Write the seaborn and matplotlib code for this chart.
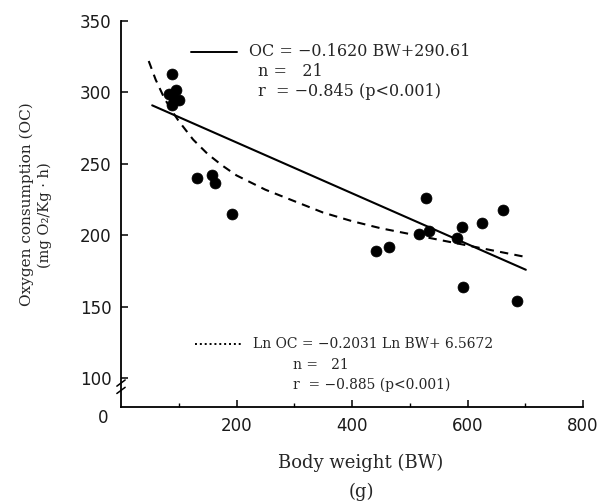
import matplotlib

matplotlib.use("Agg")

import matplotlib.pyplot as plt
import numpy as np
import pandas as pd
import seaborn as sns

body_weight = [89, 83, 95, 100, 92, 89, 132, 158, 162, 192,
               441, 464, 516, 529, 533, 582, 591, 593, 625, 662, 686]
oxygen = [313, 299, 302, 295, 295, 291, 240, 242, 237, 215,
          189, 192, 201, 226, 203, 198, 206, 164, 209, 218, 154]

# fitted lines as drawn
linear_bw = [54, 701]
linear_oc = [291, 176]
power_bw = [48, 60, 75, 90, 100, 125, 150, 175, 200, 250, 300, 350,
            400, 450, 500, 550, 600, 650, 700]
power_oc = [322, 309, 296, 286, 280, 267, 257, 249, 242, 232, 224, 216,
            210, 205, 201, 197, 193, 189, 185]

y_ticks = [100, 150, 200, 250, 300, 350]
x_major = [200, 400, 600, 800]
x_minor = [100, 300, 500, 700]

W, H = 606, 504

sns.set_theme(style="ticks")
plt.rcParams["font.family"] = ["DejaVu Serif"]
plt.rcParams["axes.unicode_minus"] = True

fig = plt.figure(figsize=(W / 100, H / 100), dpi=100)
ax = fig.add_axes([121 / W, 1 - 407 / H, (583 - 121) / W, (407 - 21) / H])

pts = pd.DataFrame({"bw": body_weight, "oc": oxygen})
sns.scatterplot(data=pts, x="bw", y="oc", color="black", s=62,
                edgecolor="black", linewidth=0.5, ax=ax, zorder=3)
sns.lineplot(x=linear_bw, y=linear_oc, color="black", lw=1.5, sort=False, ax=ax)
sns.lineplot(x=power_bw, y=power_oc, color="black", lw=1.5, sort=False,
             linestyle=(0, (4, 3)), ax=ax)

ax.set_xlim(0, 800)
ax.set_ylim(80, 350)
ax.set_xticks(x_major)
ax.set_xticks(x_minor, minor=True)
ax.set_yticks(y_ticks)
ax.set_xlabel("")
ax.set_ylabel("")
for s in ["top", "right"]:
    ax.spines[s].set_visible(False)
for s in ["left", "bottom"]:
    ax.spines[s].set_linewidth(1.3)
    ax.spines[s].set_color("black")
ax.tick_params(which="major", direction="in", length=5, width=1.1, color="black",
               labelsize=12, pad=7)
ax.tick_params(which="minor", direction="in", length=3, width=1.0, color="black")
for lab in ax.get_xticklabels() + ax.get_yticklabels():
    lab.set_family("DejaVu Sans")
    lab.set_color("#1a1a1a")

# axis break on y
for yb in (0.043, 0.062):
    ax.plot([-0.009, 0.009], [yb - 0.008, yb + 0.008], color="black", lw=1.1,
            transform=ax.transAxes, clip_on=False)

fig.text(103 / W, 1 - 418 / H, "0", family="DejaVu Sans", fontsize=12,
         ha="center", va="center", color="#1a1a1a")


def px(x, y):
    return x / W, 1 - y / H


# legend block, top
ax.plot([191 / W, 237 / W], [1 - 52 / H] * 2, color="black", lw=1.4,
        transform=fig.transFigure, clip_on=False)
fs_top = 11.5
fig.text(*px(249, 52), "OC = \u22120.1620 BW+290.61", fontsize=fs_top, va="center")
fig.text(*px(258, 72), "n =   21", fontsize=fs_top, va="center")
fig.text(*px(258, 91), "r  = \u22120.845 (p<0.001)", fontsize=fs_top, va="center")

# legend block, bottom
ax.plot([195 / W, 241 / W], [1 - 344 / H] * 2, color="black", lw=1.4,
        linestyle=(0, (1, 1.5)), transform=fig.transFigure, clip_on=False)
fs_bot = 10
fig.text(*px(253, 344), "Ln OC = \u22120.2031 Ln BW+ 6.5672", fontsize=fs_bot, va="center")
fig.text(*px(293, 365), "n =   21", fontsize=fs_bot, va="center")
fig.text(*px(293, 385), "r  = \u22120.885 (p<0.001)", fontsize=fs_bot, va="center")

# axis titles
fig.text(*px(361, 463), "Body weight (BW)", fontsize=13, ha="center", va="center")
fig.text(*px(361, 492), "(g)", fontsize=13, ha="center", va="center")
fig.text(*px(27, 204), "Oxygen consumption (OC)", fontsize=11, rotation=90,
         ha="center", va="center")
fig.text(*px(45, 215), "(mg O\u2082/Kg \u00b7 h)", fontsize=10.5, rotation=90,
         ha="center", va="center")

fig.savefig("out.png", dpi=100)
